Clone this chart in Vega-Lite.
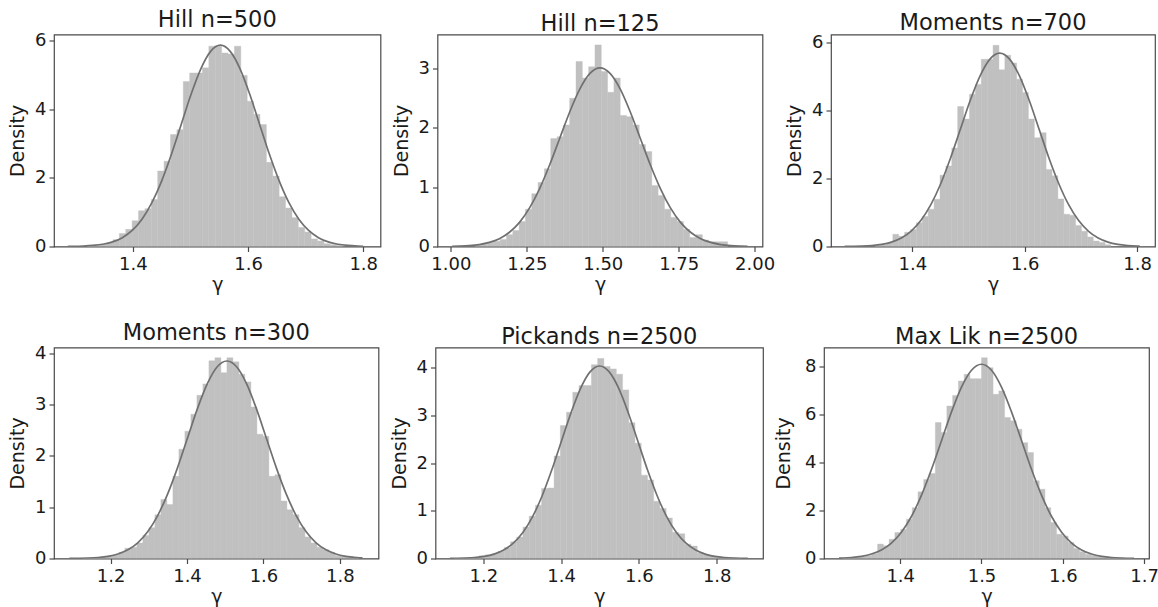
{
"$schema": "https://vega.github.io/schema/vega-lite/v6.json",
"background": "white",
"padding": {"left": 7, "top": 8.5, "right": 0, "bottom": 0},
"config": {
  "font": "DejaVu Sans",
  "view": {"stroke": "#4a4a4a", "strokeWidth": 1.2},
  "axis": {"grid": false, "domain": false, "tickColor": "#4a4a4a", "tickSize": 5, "tickWidth": 1.2, "labelFontSize": 18, "labelColor": "#1a1a1a", "titleFontSize": 19, "titleFontWeight": "normal", "titleColor": "#1a1a1a", "labelPadding": 3, "labelFlush": false, "labelOverlap": false},
  "axisX": {"titlePadding": 2, "labelPadding": 4},
  "axisY": {"titlePadding": 7, "format": "d"},
  "title": {"fontSize": 22.5, "fontWeight": "normal", "color": "#1a1a1a", "offset": -0.5, "baseline": "alphabetic", "frame": "group"}
},
"datasets": {
"bars": [
{"p":1,"a":1.3210,"b":1.3321,"h":0.02},{"p":1,"a":1.3321,"b":1.3432,"h":0.04},{"p":1,"a":1.3432,"b":1.3543,"h":0.06},{"p":1,"a":1.3543,"b":1.3654,"h":0.1},{"p":1,"a":1.3654,"b":1.3765,"h":0.2},{"p":1,"a":1.3765,"b":1.3876,"h":0.38},{"p":1,"a":1.3876,"b":1.3987,"h":0.5},{"p":1,"a":1.3987,"b":1.4098,"h":0.75},{"p":1,"a":1.4098,"b":1.4209,"h":1.04},{"p":1,"a":1.4209,"b":1.4320,"h":1.1},{"p":1,"a":1.4320,"b":1.4431,"h":1.37},{"p":1,"a":1.4431,"b":1.4542,"h":2.2},{"p":1,"a":1.4542,"b":1.4653,"h":2.48},{"p":1,"a":1.4653,"b":1.4764,"h":3.26},{"p":1,"a":1.4764,"b":1.4875,"h":3.4},{"p":1,"a":1.4875,"b":1.4986,"h":4.8},{"p":1,"a":1.4986,"b":1.5097,"h":5.05},{"p":1,"a":1.5097,"b":1.5208,"h":5.05},{"p":1,"a":1.5208,"b":1.5319,"h":5.2},{"p":1,"a":1.5319,"b":1.5430,"h":5.83},{"p":1,"a":1.5430,"b":1.5541,"h":5.83},{"p":1,"a":1.5541,"b":1.5652,"h":5.63},{"p":1,"a":1.5652,"b":1.5763,"h":5.6},{"p":1,"a":1.5763,"b":1.5874,"h":5.83},{"p":1,"a":1.5874,"b":1.5985,"h":4.98},{"p":1,"a":1.5985,"b":1.6096,"h":4.23},{"p":1,"a":1.6096,"b":1.6207,"h":3.85},{"p":1,"a":1.6207,"b":1.6318,"h":3.55},{"p":1,"a":1.6318,"b":1.6429,"h":2.45},{"p":1,"a":1.6429,"b":1.6540,"h":2.05},{"p":1,"a":1.6540,"b":1.6651,"h":1.45},{"p":1,"a":1.6651,"b":1.6762,"h":1.12},{"p":1,"a":1.6762,"b":1.6873,"h":0.84},{"p":1,"a":1.6873,"b":1.6984,"h":0.55},{"p":1,"a":1.6984,"b":1.7095,"h":0.42},{"p":1,"a":1.7095,"b":1.7206,"h":0.22},{"p":1,"a":1.7206,"b":1.7317,"h":0.16},{"p":1,"a":1.7317,"b":1.7428,"h":0.08},{"p":1,"a":1.7428,"b":1.7539,"h":0.05},{"p":1,"a":1.7539,"b":1.7650,"h":0.03},
{"p":2,"a":1.0792,"b":1.1000,"h":0.02},{"p":2,"a":1.1000,"b":1.1208,"h":0.04},{"p":2,"a":1.1208,"b":1.1416,"h":0.07},{"p":2,"a":1.1416,"b":1.1624,"h":0.09},{"p":2,"a":1.1624,"b":1.1832,"h":0.12},{"p":2,"a":1.1832,"b":1.2040,"h":0.2},{"p":2,"a":1.2040,"b":1.2248,"h":0.27},{"p":2,"a":1.2248,"b":1.2456,"h":0.42},{"p":2,"a":1.2456,"b":1.2664,"h":0.63},{"p":2,"a":1.2664,"b":1.2872,"h":0.89},{"p":2,"a":1.2872,"b":1.3080,"h":1.08},{"p":2,"a":1.3080,"b":1.3288,"h":1.31},{"p":2,"a":1.3288,"b":1.3496,"h":1.82},{"p":2,"a":1.3496,"b":1.3704,"h":1.85},{"p":2,"a":1.3704,"b":1.3912,"h":2.05},{"p":2,"a":1.3912,"b":1.4120,"h":2.5},{"p":2,"a":1.4120,"b":1.4328,"h":3.12},{"p":2,"a":1.4328,"b":1.4536,"h":2.84},{"p":2,"a":1.4536,"b":1.4744,"h":3.03},{"p":2,"a":1.4744,"b":1.4952,"h":3.4},{"p":2,"a":1.4952,"b":1.5160,"h":2.95},{"p":2,"a":1.5160,"b":1.5368,"h":2.6},{"p":2,"a":1.5368,"b":1.5576,"h":2.84},{"p":2,"a":1.5576,"b":1.5784,"h":2.21},{"p":2,"a":1.5784,"b":1.5992,"h":2.19},{"p":2,"a":1.5992,"b":1.6200,"h":2.05},{"p":2,"a":1.6200,"b":1.6408,"h":1.72},{"p":2,"a":1.6408,"b":1.6616,"h":1.6},{"p":2,"a":1.6616,"b":1.6824,"h":1.03},{"p":2,"a":1.6824,"b":1.7032,"h":0.86},{"p":2,"a":1.7032,"b":1.7240,"h":0.63},{"p":2,"a":1.7240,"b":1.7448,"h":0.49},{"p":2,"a":1.7448,"b":1.7656,"h":0.42},{"p":2,"a":1.7656,"b":1.7864,"h":0.29},{"p":2,"a":1.7864,"b":1.8072,"h":0.15},{"p":2,"a":1.8072,"b":1.8280,"h":0.2},{"p":2,"a":1.8280,"b":1.8488,"h":0.11},{"p":2,"a":1.8488,"b":1.8696,"h":0.08},{"p":2,"a":1.8696,"b":1.8904,"h":0.08},{"p":2,"a":1.8904,"b":1.9112,"h":0.08},
{"p":3,"a":1.3336,"b":1.3441,"h":0.03},{"p":3,"a":1.3441,"b":1.3546,"h":0.05},{"p":3,"a":1.3546,"b":1.3651,"h":0.1},{"p":3,"a":1.3651,"b":1.3756,"h":0.36},{"p":3,"a":1.3756,"b":1.3861,"h":0.3},{"p":3,"a":1.3861,"b":1.3966,"h":0.42},{"p":3,"a":1.3966,"b":1.4071,"h":0.5},{"p":3,"a":1.4071,"b":1.4176,"h":0.7},{"p":3,"a":1.4176,"b":1.4281,"h":0.88},{"p":3,"a":1.4281,"b":1.4386,"h":1.1},{"p":3,"a":1.4386,"b":1.4491,"h":1.39},{"p":3,"a":1.4491,"b":1.4596,"h":2.1},{"p":3,"a":1.4596,"b":1.4701,"h":2.37},{"p":3,"a":1.4701,"b":1.4806,"h":2.9},{"p":3,"a":1.4806,"b":1.4911,"h":4.12},{"p":3,"a":1.4911,"b":1.5016,"h":3.75},{"p":3,"a":1.5016,"b":1.5121,"h":4.48},{"p":3,"a":1.5121,"b":1.5226,"h":4.77},{"p":3,"a":1.5226,"b":1.5331,"h":5.51},{"p":3,"a":1.5331,"b":1.5436,"h":5.51},{"p":3,"a":1.5436,"b":1.5541,"h":5.92},{"p":3,"a":1.5541,"b":1.5646,"h":5.2},{"p":3,"a":1.5646,"b":1.5751,"h":5.63},{"p":3,"a":1.5751,"b":1.5856,"h":5.4},{"p":3,"a":1.5856,"b":1.5961,"h":4.92},{"p":3,"a":1.5961,"b":1.6066,"h":4.53},{"p":3,"a":1.6066,"b":1.6171,"h":3.75},{"p":3,"a":1.6171,"b":1.6276,"h":3.2},{"p":3,"a":1.6276,"b":1.6381,"h":3.35},{"p":3,"a":1.6381,"b":1.6486,"h":2.27},{"p":3,"a":1.6486,"b":1.6591,"h":2.08},{"p":3,"a":1.6591,"b":1.6696,"h":1.4},{"p":3,"a":1.6696,"b":1.6801,"h":0.95},{"p":3,"a":1.6801,"b":1.6906,"h":0.92},{"p":3,"a":1.6906,"b":1.7011,"h":0.62},{"p":3,"a":1.7011,"b":1.7116,"h":0.45},{"p":3,"a":1.7116,"b":1.7221,"h":0.28},{"p":3,"a":1.7221,"b":1.7326,"h":0.16},{"p":3,"a":1.7326,"b":1.7431,"h":0.12},{"p":3,"a":1.7431,"b":1.7536,"h":0.05},
{"p":4,"a":1.1276,"b":1.1433,"h":0.005},{"p":4,"a":1.1433,"b":1.1590,"h":0.01},{"p":4,"a":1.1590,"b":1.1747,"h":0.02},{"p":4,"a":1.1747,"b":1.1904,"h":0.03},{"p":4,"a":1.1904,"b":1.2061,"h":0.05},{"p":4,"a":1.2061,"b":1.2218,"h":0.07},{"p":4,"a":1.2218,"b":1.2375,"h":0.12},{"p":4,"a":1.2375,"b":1.2532,"h":0.2},{"p":4,"a":1.2532,"b":1.2689,"h":0.22},{"p":4,"a":1.2689,"b":1.2846,"h":0.3},{"p":4,"a":1.2846,"b":1.3003,"h":0.45},{"p":4,"a":1.3003,"b":1.3160,"h":0.6},{"p":4,"a":1.3160,"b":1.3317,"h":0.85},{"p":4,"a":1.3317,"b":1.3474,"h":1.15},{"p":4,"a":1.3474,"b":1.3631,"h":1.05},{"p":4,"a":1.3631,"b":1.3788,"h":1.6},{"p":4,"a":1.3788,"b":1.3945,"h":2.13},{"p":4,"a":1.3945,"b":1.4102,"h":2.48},{"p":4,"a":1.4102,"b":1.4259,"h":2.81},{"p":4,"a":1.4259,"b":1.4416,"h":3.18},{"p":4,"a":1.4416,"b":1.4573,"h":3.4},{"p":4,"a":1.4573,"b":1.4730,"h":3.85},{"p":4,"a":1.4730,"b":1.4887,"h":3.91},{"p":4,"a":1.4887,"b":1.5044,"h":3.62},{"p":4,"a":1.5044,"b":1.5201,"h":3.91},{"p":4,"a":1.5201,"b":1.5358,"h":3.83},{"p":4,"a":1.5358,"b":1.5515,"h":3.59},{"p":4,"a":1.5515,"b":1.5672,"h":3.44},{"p":4,"a":1.5672,"b":1.5829,"h":2.95},{"p":4,"a":1.5829,"b":1.5986,"h":2.42},{"p":4,"a":1.5986,"b":1.6143,"h":2.38},{"p":4,"a":1.6143,"b":1.6300,"h":1.6},{"p":4,"a":1.6300,"b":1.6457,"h":1.63},{"p":4,"a":1.6457,"b":1.6614,"h":1.12},{"p":4,"a":1.6614,"b":1.6771,"h":0.95},{"p":4,"a":1.6771,"b":1.6928,"h":0.85},{"p":4,"a":1.6928,"b":1.7085,"h":0.6},{"p":4,"a":1.7085,"b":1.7242,"h":0.42},{"p":4,"a":1.7242,"b":1.7399,"h":0.3},{"p":4,"a":1.7399,"b":1.7556,"h":0.22},{"p":4,"a":1.7556,"b":1.7713,"h":0.17},{"p":4,"a":1.7713,"b":1.7870,"h":0.12},{"p":4,"a":1.7870,"b":1.8027,"h":0.06},{"p":4,"a":1.8027,"b":1.8184,"h":0.05},{"p":4,"a":1.8184,"b":1.8341,"h":0.04},{"p":4,"a":1.8341,"b":1.8498,"h":0.03},
{"p":5,"a":1.1259,"b":1.1419,"h":0.005},{"p":5,"a":1.1419,"b":1.1579,"h":0.01},{"p":5,"a":1.1579,"b":1.1739,"h":0.015},{"p":5,"a":1.1739,"b":1.1899,"h":0.03},{"p":5,"a":1.1899,"b":1.2059,"h":0.06},{"p":5,"a":1.2059,"b":1.2219,"h":0.08},{"p":5,"a":1.2219,"b":1.2379,"h":0.1},{"p":5,"a":1.2379,"b":1.2539,"h":0.15},{"p":5,"a":1.2539,"b":1.2699,"h":0.23},{"p":5,"a":1.2699,"b":1.2859,"h":0.35},{"p":5,"a":1.2859,"b":1.3019,"h":0.45},{"p":5,"a":1.3019,"b":1.3179,"h":0.66},{"p":5,"a":1.3179,"b":1.3339,"h":0.89},{"p":5,"a":1.3339,"b":1.3499,"h":1.12},{"p":5,"a":1.3499,"b":1.3659,"h":1.47},{"p":5,"a":1.3659,"b":1.3819,"h":1.48},{"p":5,"a":1.3819,"b":1.3979,"h":2.15},{"p":5,"a":1.3979,"b":1.4139,"h":2.79},{"p":5,"a":1.4139,"b":1.4299,"h":3.07},{"p":5,"a":1.4299,"b":1.4459,"h":3.49},{"p":5,"a":1.4459,"b":1.4619,"h":3.63},{"p":5,"a":1.4619,"b":1.4779,"h":3.63},{"p":5,"a":1.4779,"b":1.4939,"h":4.07},{"p":5,"a":1.4939,"b":1.5099,"h":4.2},{"p":5,"a":1.5099,"b":1.5259,"h":4.03},{"p":5,"a":1.5259,"b":1.5419,"h":3.98},{"p":5,"a":1.5419,"b":1.5579,"h":3.87},{"p":5,"a":1.5579,"b":1.5739,"h":3.54},{"p":5,"a":1.5739,"b":1.5899,"h":2.85},{"p":5,"a":1.5899,"b":1.6059,"h":2.42},{"p":5,"a":1.6059,"b":1.6219,"h":1.75},{"p":5,"a":1.6219,"b":1.6379,"h":1.65},{"p":5,"a":1.6379,"b":1.6539,"h":1.2},{"p":5,"a":1.6539,"b":1.6699,"h":1.05},{"p":5,"a":1.6699,"b":1.6859,"h":0.85},{"p":5,"a":1.6859,"b":1.7019,"h":0.55},{"p":5,"a":1.7019,"b":1.7179,"h":0.52},{"p":5,"a":1.7179,"b":1.7339,"h":0.3},{"p":5,"a":1.7339,"b":1.7499,"h":0.26},{"p":5,"a":1.7499,"b":1.7659,"h":0.12},{"p":5,"a":1.7659,"b":1.7819,"h":0.08},{"p":5,"a":1.7819,"b":1.7979,"h":0.05},{"p":5,"a":1.7979,"b":1.8139,"h":0.03},{"p":5,"a":1.8139,"b":1.8299,"h":0.02},{"p":5,"a":1.8299,"b":1.8459,"h":0.01},{"p":5,"a":1.8459,"b":1.8619,"h":0.005},
{"p":6,"a":1.3296,"b":1.3367,"h":0.02},{"p":6,"a":1.3367,"b":1.3438,"h":0.03},{"p":6,"a":1.3438,"b":1.3509,"h":0.05},{"p":6,"a":1.3509,"b":1.3580,"h":0.08},{"p":6,"a":1.3580,"b":1.3651,"h":0.12},{"p":6,"a":1.3651,"b":1.3722,"h":0.2},{"p":6,"a":1.3722,"b":1.3793,"h":0.6},{"p":6,"a":1.3793,"b":1.3864,"h":0.53},{"p":6,"a":1.3864,"b":1.3935,"h":0.8},{"p":6,"a":1.3935,"b":1.4006,"h":1.08},{"p":6,"a":1.4006,"b":1.4077,"h":1.22},{"p":6,"a":1.4077,"b":1.4148,"h":1.64},{"p":6,"a":1.4148,"b":1.4219,"h":2.12},{"p":6,"a":1.4219,"b":1.4290,"h":2.78},{"p":6,"a":1.4290,"b":1.4361,"h":3.3},{"p":6,"a":1.4361,"b":1.4432,"h":3.54},{"p":6,"a":1.4432,"b":1.4503,"h":5.67},{"p":6,"a":1.4503,"b":1.4574,"h":5.25},{"p":6,"a":1.4574,"b":1.4645,"h":6.36},{"p":6,"a":1.4645,"b":1.4716,"h":6.8},{"p":6,"a":1.4716,"b":1.4787,"h":7.4},{"p":6,"a":1.4787,"b":1.4858,"h":7.68},{"p":6,"a":1.4858,"b":1.4929,"h":7.5},{"p":6,"a":1.4929,"b":1.5000,"h":7.5},{"p":6,"a":1.5000,"b":1.5071,"h":8.37},{"p":6,"a":1.5071,"b":1.5142,"h":7.96},{"p":6,"a":1.5142,"b":1.5213,"h":6.85},{"p":6,"a":1.5213,"b":1.5284,"h":6.99},{"p":6,"a":1.5284,"b":1.5355,"h":5.88},{"p":6,"a":1.5355,"b":1.5426,"h":5.74},{"p":6,"a":1.5426,"b":1.5497,"h":5.39},{"p":6,"a":1.5497,"b":1.5568,"h":4.83},{"p":6,"a":1.5568,"b":1.5639,"h":4.42},{"p":6,"a":1.5639,"b":1.5710,"h":3.24},{"p":6,"a":1.5710,"b":1.5781,"h":2.89},{"p":6,"a":1.5781,"b":1.5852,"h":2.12},{"p":6,"a":1.5852,"b":1.5923,"h":1.5},{"p":6,"a":1.5923,"b":1.5994,"h":1.01},{"p":6,"a":1.5994,"b":1.6065,"h":0.94},{"p":6,"a":1.6065,"b":1.6136,"h":0.67},{"p":6,"a":1.6136,"b":1.6207,"h":0.42},{"p":6,"a":1.6207,"b":1.6278,"h":0.28},{"p":6,"a":1.6278,"b":1.6349,"h":0.18},{"p":6,"a":1.6349,"b":1.6420,"h":0.12},{"p":6,"a":1.6420,"b":1.6491,"h":0.08},{"p":6,"a":1.6491,"b":1.6562,"h":0.05},{"p":6,"a":1.6562,"b":1.6633,"h":0.03},{"p":6,"a":1.6633,"b":1.6704,"h":0.02},{"p":6,"a":1.6704,"b":1.6775,"h":0.01},{"p":6,"a":1.6775,"b":1.6846,"h":0.005}
],
"lines": [
{"p":1,"x":1.287,"d":0.003},{"p":1,"x":1.2966,"d":0.005},{"p":1,"x":1.3137,"d":0.013},{"p":1,"x":1.3307,"d":0.03},{"p":1,"x":1.3477,"d":0.065},{"p":1,"x":1.3647,"d":0.133},{"p":1,"x":1.3818,"d":0.257},{"p":1,"x":1.3988,"d":0.466},{"p":1,"x":1.4158,"d":0.793},{"p":1,"x":1.4328,"d":1.267},{"p":1,"x":1.4499,"d":1.902},{"p":1,"x":1.4669,"d":2.682},{"p":1,"x":1.4839,"d":3.553},{"p":1,"x":1.5009,"d":4.422},{"p":1,"x":1.518,"d":5.17},{"p":1,"x":1.535,"d":5.678},{"p":1,"x":1.552,"d":5.858},{"p":1,"x":1.569,"d":5.678},{"p":1,"x":1.5861,"d":5.17},{"p":1,"x":1.6031,"d":4.422},{"p":1,"x":1.6201,"d":3.553},{"p":1,"x":1.6371,"d":2.682},{"p":1,"x":1.6542,"d":1.902},{"p":1,"x":1.6712,"d":1.267},{"p":1,"x":1.6882,"d":0.793},{"p":1,"x":1.7052,"d":0.466},{"p":1,"x":1.7223,"d":0.257},{"p":1,"x":1.7393,"d":0.133},{"p":1,"x":1.7563,"d":0.065},{"p":1,"x":1.7733,"d":0.03},{"p":1,"x":1.7904,"d":0.013},{"p":1,"x":1.8,"d":0.008},
{"p":2,"x":1.004,"d":0.004},{"p":2,"x":1.0273,"d":0.007},{"p":2,"x":1.0604,"d":0.015},{"p":2,"x":1.0935,"d":0.033},{"p":2,"x":1.1266,"d":0.069},{"p":2,"x":1.1598,"d":0.132},{"p":2,"x":1.1929,"d":0.24},{"p":2,"x":1.226,"d":0.407},{"p":2,"x":1.2591,"d":0.651},{"p":2,"x":1.2923,"d":0.977},{"p":2,"x":1.3254,"d":1.378},{"p":2,"x":1.3585,"d":1.826},{"p":2,"x":1.3916,"d":2.273},{"p":2,"x":1.4248,"d":2.657},{"p":2,"x":1.4579,"d":2.918},{"p":2,"x":1.491,"d":3.011},{"p":2,"x":1.5241,"d":2.918},{"p":2,"x":1.5573,"d":2.657},{"p":2,"x":1.5904,"d":2.273},{"p":2,"x":1.6235,"d":1.826},{"p":2,"x":1.6566,"d":1.378},{"p":2,"x":1.6898,"d":0.977},{"p":2,"x":1.7229,"d":0.651},{"p":2,"x":1.756,"d":0.407},{"p":2,"x":1.7891,"d":0.24},{"p":2,"x":1.8223,"d":0.132},{"p":2,"x":1.8554,"d":0.069},{"p":2,"x":1.8885,"d":0.033},{"p":2,"x":1.9216,"d":0.015},{"p":2,"x":1.9548,"d":0.007},{"p":2,"x":1.977,"d":0.004},
{"p":3,"x":1.2793,"d":0.002},{"p":3,"x":1.2926,"d":0.005},{"p":3,"x":1.3102,"d":0.012},{"p":3,"x":1.3277,"d":0.029},{"p":3,"x":1.3452,"d":0.063},{"p":3,"x":1.3627,"d":0.13},{"p":3,"x":1.3803,"d":0.25},{"p":3,"x":1.3978,"d":0.453},{"p":3,"x":1.4153,"d":0.77},{"p":3,"x":1.4328,"d":1.231},{"p":3,"x":1.4504,"d":1.848},{"p":3,"x":1.4679,"d":2.606},{"p":3,"x":1.4854,"d":3.452},{"p":3,"x":1.5029,"d":4.296},{"p":3,"x":1.5205,"d":5.022},{"p":3,"x":1.538,"d":5.516},{"p":3,"x":1.5555,"d":5.691},{"p":3,"x":1.573,"d":5.516},{"p":3,"x":1.5906,"d":5.022},{"p":3,"x":1.6081,"d":4.296},{"p":3,"x":1.6256,"d":3.452},{"p":3,"x":1.6431,"d":2.606},{"p":3,"x":1.6607,"d":1.848},{"p":3,"x":1.6782,"d":1.231},{"p":3,"x":1.6957,"d":0.77},{"p":3,"x":1.7132,"d":0.453},{"p":3,"x":1.7308,"d":0.25},{"p":3,"x":1.7483,"d":0.13},{"p":3,"x":1.7658,"d":0.063},{"p":3,"x":1.7833,"d":0.029},{"p":3,"x":1.8009,"d":0.012},{"p":3,"x":1.8047,"d":0.01},
{"p":4,"x":1.0921,"d":0.001},{"p":4,"x":1.1155,"d":0.003},{"p":4,"x":1.1415,"d":0.008},{"p":4,"x":1.1674,"d":0.02},{"p":4,"x":1.1933,"d":0.043},{"p":4,"x":1.2192,"d":0.088},{"p":4,"x":1.2452,"d":0.169},{"p":4,"x":1.2711,"d":0.306},{"p":4,"x":1.297,"d":0.521},{"p":4,"x":1.3229,"d":0.832},{"p":4,"x":1.3489,"d":1.249},{"p":4,"x":1.3748,"d":1.761},{"p":4,"x":1.4007,"d":2.333},{"p":4,"x":1.4266,"d":2.904},{"p":4,"x":1.4526,"d":3.395},{"p":4,"x":1.4785,"d":3.729},{"p":4,"x":1.5044,"d":3.847},{"p":4,"x":1.5303,"d":3.729},{"p":4,"x":1.5563,"d":3.395},{"p":4,"x":1.5822,"d":2.904},{"p":4,"x":1.6081,"d":2.333},{"p":4,"x":1.634,"d":1.761},{"p":4,"x":1.66,"d":1.249},{"p":4,"x":1.6859,"d":0.832},{"p":4,"x":1.7118,"d":0.521},{"p":4,"x":1.7377,"d":0.306},{"p":4,"x":1.7637,"d":0.169},{"p":4,"x":1.7896,"d":0.088},{"p":4,"x":1.8155,"d":0.043},{"p":4,"x":1.8414,"d":0.02},{"p":4,"x":1.859,"d":0.011},
{"p":5,"x":1.1141,"d":0.002},{"p":5,"x":1.1289,"d":0.004},{"p":5,"x":1.1536,"d":0.009},{"p":5,"x":1.1782,"d":0.021},{"p":5,"x":1.2029,"d":0.045},{"p":5,"x":1.2276,"d":0.092},{"p":5,"x":1.2523,"d":0.178},{"p":5,"x":1.2769,"d":0.322},{"p":5,"x":1.3016,"d":0.547},{"p":5,"x":1.3263,"d":0.874},{"p":5,"x":1.351,"d":1.312},{"p":5,"x":1.3756,"d":1.851},{"p":5,"x":1.4003,"d":2.452},{"p":5,"x":1.425,"d":3.051},{"p":5,"x":1.4497,"d":3.567},{"p":5,"x":1.4743,"d":3.918},{"p":5,"x":1.499,"d":4.042},{"p":5,"x":1.5237,"d":3.918},{"p":5,"x":1.5484,"d":3.567},{"p":5,"x":1.573,"d":3.051},{"p":5,"x":1.5977,"d":2.452},{"p":5,"x":1.6224,"d":1.851},{"p":5,"x":1.6471,"d":1.312},{"p":5,"x":1.6717,"d":0.874},{"p":5,"x":1.6964,"d":0.547},{"p":5,"x":1.7211,"d":0.322},{"p":5,"x":1.7458,"d":0.178},{"p":5,"x":1.7704,"d":0.092},{"p":5,"x":1.7951,"d":0.045},{"p":5,"x":1.8198,"d":0.021},{"p":5,"x":1.8445,"d":0.009},{"p":5,"x":1.8691,"d":0.004},{"p":5,"x":1.88,"d":0.002},
{"p":6,"x":1.3247,"d":0.014},{"p":6,"x":1.3276,"d":0.018},{"p":6,"x":1.3399,"d":0.041},{"p":6,"x":1.3523,"d":0.09},{"p":6,"x":1.3646,"d":0.185},{"p":6,"x":1.3769,"d":0.356},{"p":6,"x":1.3892,"d":0.644},{"p":6,"x":1.4015,"d":1.096},{"p":6,"x":1.4138,"d":1.752},{"p":6,"x":1.4261,"d":2.63},{"p":6,"x":1.4384,"d":3.709},{"p":6,"x":1.4508,"d":4.913},{"p":6,"x":1.4631,"d":6.115},{"p":6,"x":1.4754,"d":7.149},{"p":6,"x":1.4877,"d":7.851},{"p":6,"x":1.5,"d":8.101},{"p":6,"x":1.5123,"d":7.851},{"p":6,"x":1.5246,"d":7.149},{"p":6,"x":1.5369,"d":6.115},{"p":6,"x":1.5493,"d":4.913},{"p":6,"x":1.5616,"d":3.709},{"p":6,"x":1.5739,"d":2.63},{"p":6,"x":1.5862,"d":1.752},{"p":6,"x":1.5985,"d":1.096},{"p":6,"x":1.6108,"d":0.644},{"p":6,"x":1.6231,"d":0.356},{"p":6,"x":1.6354,"d":0.185},{"p":6,"x":1.6478,"d":0.09},{"p":6,"x":1.6601,"d":0.041},{"p":6,"x":1.6724,"d":0.018},{"p":6,"x":1.6847,"d":0.007},{"p":6,"x":1.6876,"d":0.006}
]
},
"spacing": 26,
"resolve": {"scale": {"x": "independent", "y": "independent"}},
"vconcat": [
{"hconcat": [
 {"title": "Hill n=500", "width": 326.5, "height": 212, "layer": [
  {"data": {"name": "bars"}, "transform": [{"filter": "datum.p == 1"}], "mark": {"type": "rect", "color": "#c0c0c0", "stroke": "#c0c0c0", "strokeWidth": 0.4, "clip": true},
   "encoding": {"x": {"field": "a", "type": "quantitative", "scale": {"domain": [1.263, 1.83], "nice": false, "zero": false}, "axis": {"values": [1.4, 1.6, 1.8], "format": ".1f", "title": "γ"}}, "x2": {"field": "b"},
    "y": {"field": "h", "type": "quantitative", "scale": {"domain": [0, 6.17], "nice": false}, "axis": {"values": [0, 2, 4, 6], "title": "Density"}}, "y2": {"datum": 0}}},
  {"data": {"name": "lines"}, "transform": [{"filter": "datum.p == 1"}], "mark": {"type": "line", "color": "#707070", "strokeWidth": 1.7, "interpolate": "monotone", "clip": true},
   "encoding": {"x": {"field": "x", "type": "quantitative"}, "y": {"field": "d", "type": "quantitative"}}}
 ]},
 {"title": "Hill n=125", "width": 325, "height": 212, "layer": [
  {"data": {"name": "bars"}, "transform": [{"filter": "datum.p == 2"}], "mark": {"type": "rect", "color": "#c0c0c0", "stroke": "#c0c0c0", "strokeWidth": 0.4, "clip": true},
   "encoding": {"x": {"field": "a", "type": "quantitative", "scale": {"domain": [0.956, 2.026], "nice": false, "zero": false}, "axis": {"values": [1, 1.25, 1.5, 1.75, 2], "format": ".2f", "title": "γ"}}, "x2": {"field": "b"},
    "y": {"field": "h", "type": "quantitative", "scale": {"domain": [0, 3.575], "nice": false}, "axis": {"values": [0, 1, 2, 3], "title": "Density"}}, "y2": {"datum": 0}}},
  {"data": {"name": "lines"}, "transform": [{"filter": "datum.p == 2"}], "mark": {"type": "line", "color": "#707070", "strokeWidth": 1.7, "interpolate": "monotone", "clip": true},
   "encoding": {"x": {"field": "x", "type": "quantitative"}, "y": {"field": "d", "type": "quantitative"}}}
 ]},
 {"title": "Moments n=700", "width": 324, "height": 212, "layer": [
  {"data": {"name": "bars"}, "transform": [{"filter": "datum.p == 3"}], "mark": {"type": "rect", "color": "#c0c0c0", "stroke": "#c0c0c0", "strokeWidth": 0.4, "clip": true},
   "encoding": {"x": {"field": "a", "type": "quantitative", "scale": {"domain": [1.255, 1.832], "nice": false, "zero": false}, "axis": {"values": [1.4, 1.6, 1.8], "format": ".1f", "title": "γ"}}, "x2": {"field": "b"},
    "y": {"field": "h", "type": "quantitative", "scale": {"domain": [0, 6.24], "nice": false}, "axis": {"values": [0, 2, 4, 6], "title": "Density"}}, "y2": {"datum": 0}}},
  {"data": {"name": "lines"}, "transform": [{"filter": "datum.p == 3"}], "mark": {"type": "line", "color": "#707070", "strokeWidth": 1.7, "interpolate": "monotone", "clip": true},
   "encoding": {"x": {"field": "x", "type": "quantitative"}, "y": {"field": "d", "type": "quantitative"}}}
 ]}
], "spacing": 8.5, "resolve": {"scale": {"x": "independent", "y": "independent"}}},
{"hconcat": [
 {"title": "Moments n=300", "width": 324.5, "height": 211, "layer": [
  {"data": {"name": "bars"}, "transform": [{"filter": "datum.p == 4"}], "mark": {"type": "rect", "color": "#c0c0c0", "stroke": "#c0c0c0", "strokeWidth": 0.4, "clip": true},
   "encoding": {"x": {"field": "a", "type": "quantitative", "scale": {"domain": [1.052, 1.901], "nice": false, "zero": false}, "axis": {"values": [1.2, 1.4, 1.6, 1.8], "format": ".1f", "title": "γ"}}, "x2": {"field": "b"},
    "y": {"field": "h", "type": "quantitative", "scale": {"domain": [0, 4.11], "nice": false}, "axis": {"values": [0, 1, 2, 3, 4], "title": "Density"}}, "y2": {"datum": 0}}},
  {"data": {"name": "lines"}, "transform": [{"filter": "datum.p == 4"}], "mark": {"type": "line", "color": "#707070", "strokeWidth": 1.7, "interpolate": "monotone", "clip": true},
   "encoding": {"x": {"field": "x", "type": "quantitative"}, "y": {"field": "d", "type": "quantitative"}}}
 ]},
 {"title": "Pickands n=2500", "width": 327.5, "height": 211, "layer": [
  {"data": {"name": "bars"}, "transform": [{"filter": "datum.p == 5"}], "mark": {"type": "rect", "color": "#c0c0c0", "stroke": "#c0c0c0", "strokeWidth": 0.4, "clip": true},
   "encoding": {"x": {"field": "a", "type": "quantitative", "scale": {"domain": [1.077, 1.919], "nice": false, "zero": false}, "axis": {"values": [1.2, 1.4, 1.6, 1.8], "format": ".1f", "title": "γ"}}, "x2": {"field": "b"},
    "y": {"field": "h", "type": "quantitative", "scale": {"domain": [0, 4.43], "nice": false}, "axis": {"values": [0, 1, 2, 3, 4], "title": "Density"}}, "y2": {"datum": 0}}},
  {"data": {"name": "lines"}, "transform": [{"filter": "datum.p == 5"}], "mark": {"type": "line", "color": "#707070", "strokeWidth": 1.7, "interpolate": "monotone", "clip": true},
   "encoding": {"x": {"field": "x", "type": "quantitative"}, "y": {"field": "d", "type": "quantitative"}}}
 ]},
 {"title": "Max Lik n=2500", "width": 325, "height": 211, "layer": [
  {"data": {"name": "bars"}, "transform": [{"filter": "datum.p == 6"}], "mark": {"type": "rect", "color": "#c0c0c0", "stroke": "#c0c0c0", "strokeWidth": 0.4, "clip": true},
   "encoding": {"x": {"field": "a", "type": "quantitative", "scale": {"domain": [1.3063, 1.706], "nice": false, "zero": false}, "axis": {"values": [1.4, 1.5, 1.6, 1.7], "format": ".1f", "title": "γ"}}, "x2": {"field": "b"},
    "y": {"field": "h", "type": "quantitative", "scale": {"domain": [0, 8.8], "nice": false}, "axis": {"values": [0, 2, 4, 6, 8], "title": "Density", "titlePadding": 11.5}}, "y2": {"datum": 0}}},
  {"data": {"name": "lines"}, "transform": [{"filter": "datum.p == 6"}], "mark": {"type": "line", "color": "#707070", "strokeWidth": 1.7, "interpolate": "monotone", "clip": true},
   "encoding": {"x": {"field": "x", "type": "quantitative"}, "y": {"field": "d", "type": "quantitative"}}}
 ]}
], "spacing": 8.5, "resolve": {"scale": {"x": "independent", "y": "independent"}}}
]
}
